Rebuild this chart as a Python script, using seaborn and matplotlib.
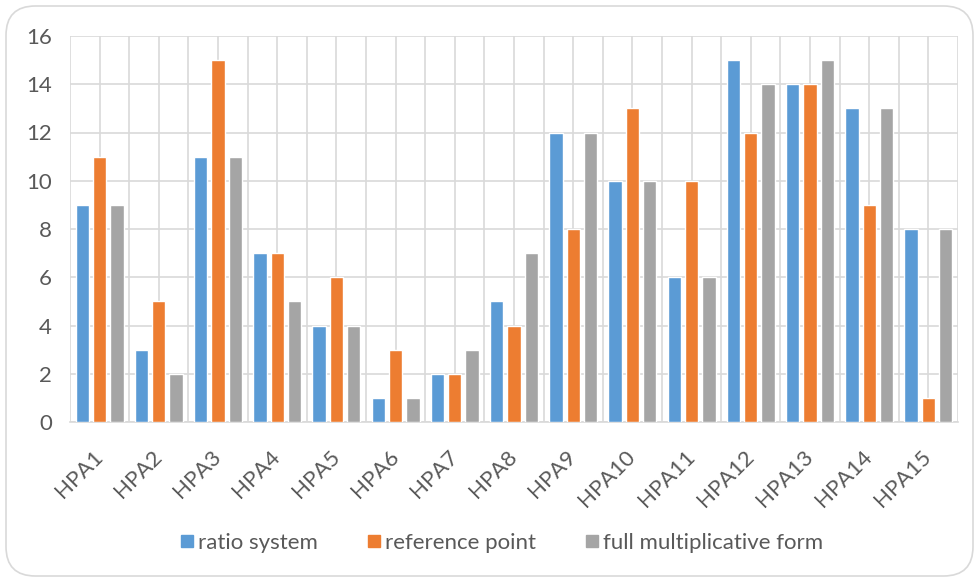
import matplotlib
matplotlib.use("Agg")
import matplotlib.pyplot as plt
from matplotlib.patches import FancyBboxPatch
from matplotlib.lines import Line2D
import numpy as np
import pandas as pd
import seaborn as sns

categories = ["HPA1", "HPA2", "HPA3", "HPA4", "HPA5", "HPA6", "HPA7", "HPA8",
              "HPA9", "HPA10", "HPA11", "HPA12", "HPA13", "HPA14", "HPA15"]
ratio_system = [9, 3, 11, 7, 4, 1, 2, 5, 12, 10, 6, 15, 14, 13, 8]
reference_point = [11, 5, 15, 7, 6, 3, 2, 4, 8, 13, 10, 12, 14, 9, 1]
full_multiplicative = [9, 2, 11, 5, 4, 1, 3, 7, 12, 10, 6, 14, 15, 13, 8]
series_names = ["ratio system", "reference point", "full multiplicative form"]
y_ticks = [0, 2, 4, 6, 8, 10, 12, 14, 16]

colors = ["#5B9BD5", "#ED7D31", "#A5A5A5"]
text_color = "#595959"
grid_color = "#D9D9D9"

df = pd.DataFrame({
    "category": categories * 3,
    "value": ratio_system + reference_point + full_multiplicative,
    "series": [series_names[0]] * 15 + [series_names[1]] * 15 + [series_names[2]] * 15,
})

sns.set_theme(style="white")
plt.rcParams["font.family"] = ["Lato", "DejaVu Sans"]

fig = plt.figure(figsize=(9.79, 5.82), dpi=100)
ax = fig.add_axes([70 / 979, 1 - 422 / 582, 888 / 979, 386 / 582])

sns.barplot(data=df, x="category", y="value", hue="series", order=categories,
            hue_order=series_names, palette=colors, width=0.88, gap=0.23,
            saturation=1, legend=False, ax=ax, zorder=3)

ax.set_xlim(-0.5, len(categories) - 0.5)
ax.set_ylim(0, 16)
ax.set_yticks(y_ticks)
ax.set_xticks(np.arange(-0.5, len(categories), 1.0), minor=True)
ax.grid(True, which="both", color=grid_color, linewidth=1.2, zorder=0)
ax.set_axisbelow(True)
for side in ["top", "right", "left"]:
    ax.spines[side].set_visible(False)
ax.spines["bottom"].set_color(grid_color)
ax.spines["bottom"].set_linewidth(1.2)
ax.tick_params(axis="both", which="both", length=0, colors=text_color, labelsize=16)
ax.tick_params(axis="y", pad=13)
ax.tick_params(axis="x", pad=23)
for lbl in ax.get_xticklabels():
    lbl.set_rotation(45)
    lbl.set_ha("right")
    lbl.set_va("center")
    lbl.set_rotation_mode("anchor")
ax.set_xlabel("")
ax.set_ylabel("")

handles = [Line2D([0], [0], marker="s", linestyle="", markersize=8.5,
                  markerfacecolor=c, markeredgecolor=c) for c in colors]
fig.legend(handles, series_names, loc="center", bbox_to_anchor=(0.5 + 10 / 979, 1 - 543 / 582),
           ncol=3, frameon=False, fontsize=16, labelcolor=text_color,
           handletextpad=0.0, columnspacing=2.0, handlelength=1.0)

border = FancyBboxPatch((6 / 979, 6 / 582), 967 / 979, 570 / 582,
                        boxstyle="round,pad=0,rounding_size=0.03",
                        transform=fig.transFigure, facecolor="none",
                        edgecolor="#D9D9D9", linewidth=1.2,
                        mutation_aspect=979 / 582)
fig.patches.append(border)

fig.savefig("out.png", dpi=100, facecolor="white")
